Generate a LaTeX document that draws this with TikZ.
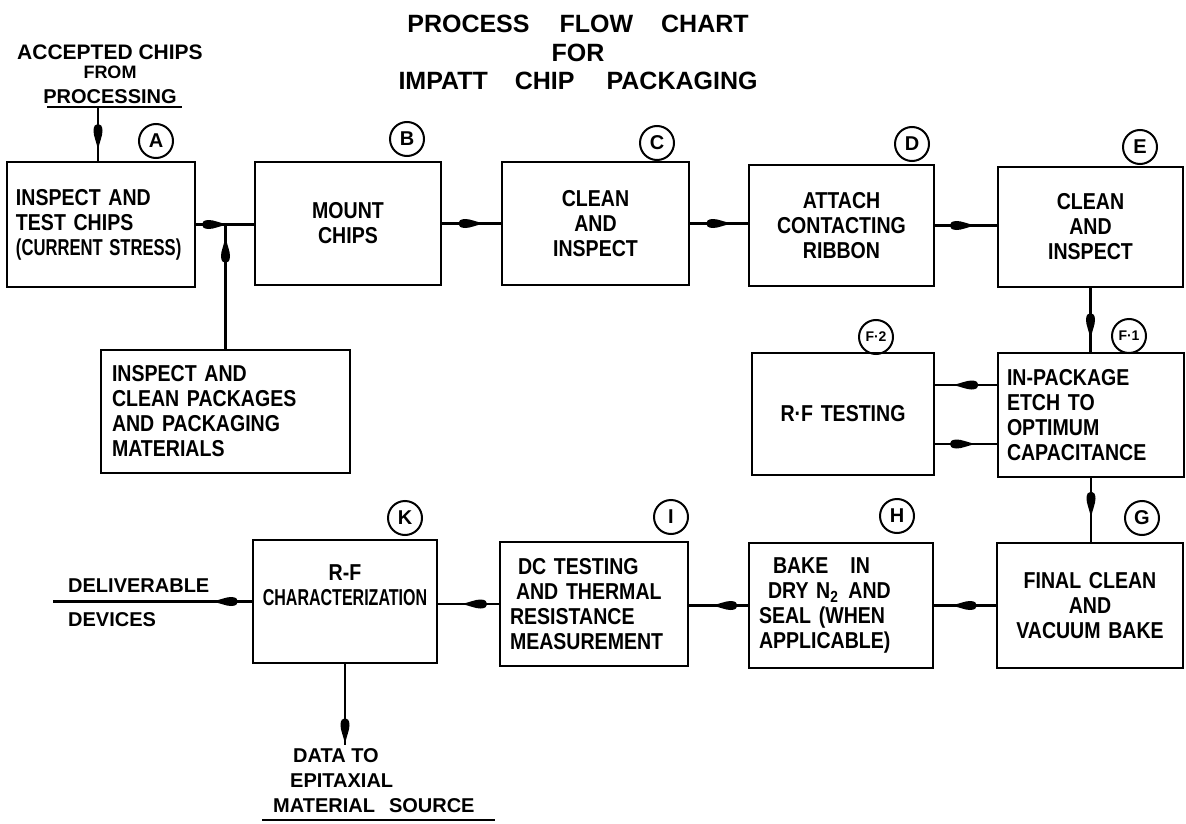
\documentclass[tikz,border=0pt]{standalone}
\usepackage{fontspec}
\usepackage{graphicx}
\setmainfont[FakeStretch=0.85]{Liberation Sans}
\newfontfamily\titlefont{Liberation Sans}
\usetikzlibrary{decorations.markings}
\newcommand{\sq}[2][0.85]{\scalebox{#1}[1]{#2}}
\begin{document}
\begin{tikzpicture}[x=1pt,y=-1pt,
  box/.style={draw, line width=2.6pt, inner xsep=9pt, inner ysep=0pt,
    font=\fontsize{23}{25}\selectfont\bfseries},
  tag/.style={draw, circle, line width=2pt, minimum size=34pt, inner sep=0pt,
    font=\titlefont\bfseries\fontsize{20}{20}\selectfont},
  ftag/.style={tag, font=\titlefont\bfseries\fontsize{14}{14}\selectfont},
  lbl/.style={inner sep=0pt, font=\titlefont\bfseries\fontsize{20}{25}\selectfont},
  conn/.style={line width=2.6pt, postaction={decorate},
    decoration={markings, mark=at position #1 with {
      \fill (0pt,0pt) .. controls (-8pt,1.5pt) and (-14pt,4.5pt) .. (-19pt,4.5pt)
        .. controls (-24pt,4.5pt) and (-26pt,2.5pt) .. (-26pt,0pt)
        .. controls (-26pt,-2.5pt) and (-24pt,-4.5pt) .. (-19pt,-4.5pt)
        .. controls (-14pt,-4.5pt) and (-8pt,-1.5pt) .. (0pt,0pt) -- cycle;}}},
  conn/.default=0.7,
  uline/.style={line width=2.2pt}]
\fill[white] (0,0) rectangle (1186,824);
\useasboundingbox (0,0) rectangle (1186,824);

% title
\node[inner sep=0pt, align=center, font=\titlefont\bfseries\fontsize{25}{28.5}\selectfont] (title) at (578,52.5)
  {PROCESS\hspace{30pt}FLOW\hspace{28pt}CHART\\FOR\\IMPATT\hspace{27pt}CHIP\hspace{32pt}PACKAGING};

% top row
\node[box, text width=170pt, minimum height=125pt, align=left] (A) at (101,224.5)
  {INSPECT AND\\TEST CHIPS\\\sq{(CURRENT STRESS)}};
\node[box, text width=168pt, minimum height=123pt, align=center] (B) at (348,223.5)
  {MOUNT\\CHIPS};
\node[box, text width=169pt, minimum height=123pt, align=center] (C) at (595.5,223.5)
  {CLEAN\\AND\\INSPECT};
\node[box, text width=167pt, minimum height=121pt, align=center] (D) at (841.5,225.5)
  {ATTACH\\CONTACTING\\RIBBON};
\node[box, text width=167pt, minimum height=120pt, align=center] (E) at (1090.5,227)
  {CLEAN\\AND\\INSPECT};

% middle row
\node[box, inner xsep=11pt, text width=227pt, minimum height=123pt, align=left] (P) at (225.5,411.5)
  {INSPECT AND\\CLEAN PACKAGES\\AND PACKAGING\\MATERIALS};
\node[box, text width=164pt, minimum height=122pt, align=center] (F2) at (843,414)
  {R·F TESTING};
\node[box, text width=168pt, minimum height=124pt, align=left] (F1) at (1091,415)
  {IN-PACKAGE\\ETCH TO\\OPTIMUM\\CAPACITANCE};

% bottom row
\node[box, inner xsep=6pt, text width=172pt, minimum height=123pt, align=center] (K) at (345,601.5)
  {R-F\\\sq[0.82]{CHARACTERIZATION}\\\strut};
\node[box, inner xsep=10pt, text width=168pt, minimum height=124pt, align=left] (I) at (594,604)
  {\hspace*{8pt}DC TESTING\\\hspace*{6pt}AND THERMAL\\RESISTANCE\\MEASUREMENT};
\node[box, inner xsep=10pt, text width=164pt, minimum height=125pt, align=left] (H) at (841,605.5)
  {\hspace*{14pt}BAKE\hspace{22pt}IN\\\hspace*{9pt}DRY N\textsubscript{2}\hspace{10pt}AND\\SEAL (WHEN\\APPLICABLE)};
\node[box, text width=168pt, minimum height=125pt, align=center] (G) at (1090,605.5)
  {FINAL CLEAN\\AND\\VACUUM BAKE};

% circled tags
\node[tag] (tA) at (156,141) {A};
\node[tag] (tB) at (407,139) {B};
\node[tag] (tC) at (657,143) {C};
\node[tag] (tD) at (912,144) {D};
\node[tag] (tE) at (1140,147) {E};
\node[ftag] (tF2) at (876,337) {F·2};
\node[ftag] (tF1) at (1129,336) {F·1};
\node[tag] (tG) at (1142,518) {G};
\node[tag] (tH) at (897,516) {H};
\node[tag] (tI) at (671,517) {I};
\node[tag] (tK) at (405,518) {K};

% outside labels
\node[lbl, align=center] (acclbl) at (110,74)
  {\fontsize{21}{25}\selectfont ACCEPTED CHIPS\\[-6pt]\fontsize{18}{25}\selectfont FROM\\PROCESSING};
\draw[uline] (47,107) -- (182,107);
\node[lbl, align=left, anchor=west] (devlbl) at (68,603)
  {DELIVERABLE\\[9pt]DEVICES};
\node[lbl, align=left, anchor=west] (datalbl) at (273,780.5)
  {\hspace*{20pt}DATA TO\\\hspace*{17pt}EPITAXIAL\\MATERIAL\hspace{14pt}SOURCE};
\draw[uline] (262,820) -- (495,820);

% connectors
\coordinate (acc) at (98,107);
\draw[conn=0.8] (acc) -- (acc |- A.north);
\draw[conn=0.55] (A.east) -- (A.east -| B.west);
\coordinate (jn) at (P.north |- A.east);
\draw[conn=0.9] (P.north) -- (jn);
\draw[conn=0.72] (B.east) -- (B.east -| C.west);
\draw[conn=0.73] (C.east) -- (C.east -| D.west);
\draw[conn=0.66] (D.east) -- (D.east -| E.west);
\draw[conn=0.8] (E.south) -- (E.south |- F1.north);
\coordinate (f1a) at ([yshift=30pt]F1.west);
\draw[conn=0.72] (f1a) -- (f1a -| F2.east);
\coordinate (f2b) at ([yshift=-30pt]F2.east);
\draw[conn=0.66] (f2b) -- (f2b -| F1.west);
\draw[conn=0.62] (F1.south) -- (F1.south |- G.north);
\draw[conn=0.73] (G.west) -- (G.west -| H.east);
\draw[conn=0.62] (H.west) -- (H.west -| I.east);
\draw[conn=0.62] (I.west) -- (I.west -| K.east);
\coordinate (dv) at (53,601.5);
\draw[conn=0.2] (K.west) -- (dv);
\coordinate (dt) at (345,745);
\draw[conn=0.99] (K.south) -- (dt);
\end{tikzpicture}
\end{document}
